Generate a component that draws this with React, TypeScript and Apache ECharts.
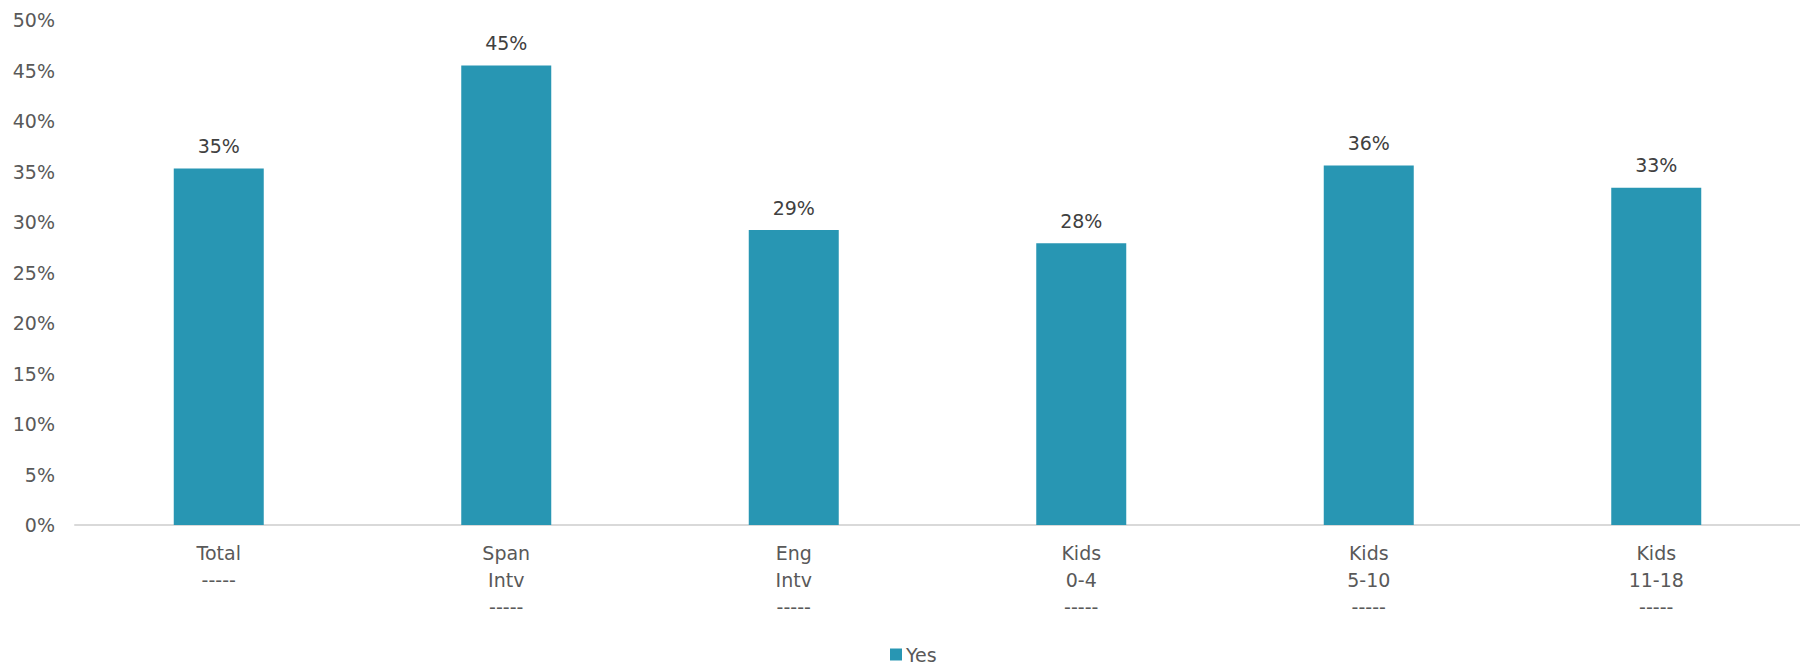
import React, { useEffect, useRef } from "react";
import * as echarts from "echarts";

const categories = [
  "Total\n-----",
  "Span\nIntv\n-----",
  "Eng\nIntv\n-----",
  "Kids\n0-4\n-----",
  "Kids\n5-10\n-----",
  "Kids\n11-18\n-----",
];
const yesValues = [35.3, 45.49, 29.2, 27.9, 35.6, 33.4];
const seriesName = "Yes";
const yMax = 50;
const yInterval = 5;

const FONT = "DejaVu Sans";

export default function App() {
  const ref = useRef<HTMLDivElement>(null);
  useEffect(() => {
    if (!ref.current) return;
    const chart = echarts.init(ref.current, undefined, { renderer: "svg" });
    chart.setOption({
      animation: false,
      backgroundColor: "#ffffff",
      textStyle: { fontFamily: FONT },
      grid: { left: 75, right: 0, top: 20, bottom: 141, containLabel: false },
      legend: {
        data: [seriesName],
        left: 890,
        top: 645,
        padding: 0,
        itemWidth: 12,
        itemHeight: 12,
        itemGap: 6,
        icon: "rect",
        textStyle: { fontSize: 19, color: "#595959", fontFamily: FONT, padding: [0, 0, 0, -1] },
      },
      xAxis: {
        type: "category",
        data: categories,
        axisLine: { show: true, lineStyle: { color: "#D9D9D9", width: 2 } },
        axisTick: { show: false },
        axisLabel: {
          interval: 0,
          margin: 14,
          fontSize: 19,
          lineHeight: 27,
          color: "#595959",
          fontFamily: FONT,
        },
      },
      yAxis: {
        type: "value",
        min: 0,
        max: yMax,
        interval: yInterval,
        splitLine: { show: false },
        axisLine: { show: false },
        axisTick: { show: false },
        axisLabel: {
          margin: 20,
          fontSize: 19,
          color: "#595959",
          fontFamily: FONT,
          formatter: (v: number) => `${v}%`,
        },
      },
      series: [
        {
          name: seriesName,
          type: "bar",
          data: yesValues,
          barWidth: 90,
          itemStyle: { color: "#2896B3" },
          label: {
            show: true,
            position: "top",
            distance: 13,
            fontSize: 19,
            color: "#404040",
            fontFamily: FONT,
            formatter: (p: any) => `${Math.round(p.value)}%`,
          },
        },
      ],
    });
    return () => chart.dispose();
  }, []);
  return (
    <div
      ref={ref}
      style={{ position: "fixed", top: 0, left: 0, width: 1800, height: 666 }}
    />
  );
}
